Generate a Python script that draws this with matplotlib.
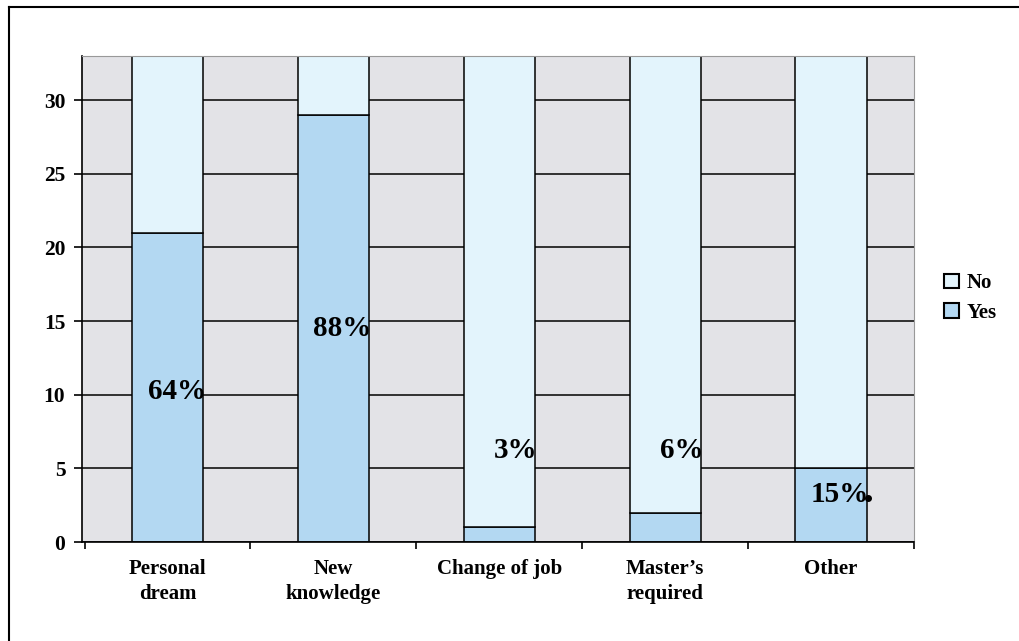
import matplotlib
matplotlib.use("Agg")
import matplotlib.pyplot as plt
from matplotlib.patches import Patch
from matplotlib.lines import Line2D
import numpy as np

# Survey: reasons for enrolling (33 respondents)
categories = ["Personal\ndream", "New\nknowledge", "Change of job", "Master\u2019s\nrequired", "Other"]
yes_counts = [21, 29, 1, 2, 5]
no_counts = [12, 4, 32, 31, 28]
pct_labels = ["64%", "88%", "3%", "6%", "15%"]
pct_label_y = [10.2, 14.5, 6.2, 6.2, 3.2]
y_ticks = [0, 5, 10, 15, 20, 25, 30]

yes_color = "#B3D8F2"
no_color = "#E3F4FC"
bg_color = "#E3E3E7"

plt.rcParams["font.family"] = ["Liberation Serif", "DejaVu Serif"]
plt.rcParams["font.weight"] = "bold"

fig = plt.figure(figsize=(10.19, 6.41), dpi=100)
fig.patch.set_facecolor("white")
ax = fig.add_axes([0.0805, 0.1544, 0.8165, 0.7582])
ax.set_facecolor(bg_color)

x = np.arange(len(categories))
width = 0.43

ax.set_axisbelow(True)
ax.yaxis.grid(True, color="black", linewidth=1.1)
ax.bar(x, yes_counts, width, color=yes_color, edgecolor="black", linewidth=1.1, label="Yes", zorder=2)
ax.bar(x, no_counts, width, bottom=yes_counts, color=no_color, edgecolor="black", linewidth=1.1, label="No", zorder=2)

for xi, txt, ty in zip(x, pct_labels, pct_label_y):
    ax.text(xi + width / 2 + 0.015, ty, txt, ha="right", va="center",
            fontsize=21, fontweight="bold", zorder=3)
# stray dot after the last label
ax.plot([x[-1] + width / 2 + 0.005], [pct_label_y[-1] - 0.2], "o", color="black", markersize=4, zorder=4)

ax.set_xlim(-0.515, len(categories) - 0.515)
ax.set_ylim(0, 33)
ax.set_yticks(y_ticks)
ax.set_yticklabels([str(v) for v in y_ticks], fontsize=15.5, fontweight="bold")
ax.tick_params(axis="y", direction="out", length=6, width=1.2, pad=6)

# category ticks sit between bars; labels centred under bars
ax.set_xticks(np.arange(len(categories) + 1) - 0.5)
ax.set_xticklabels([])
ax.tick_params(axis="x", direction="out", length=5, width=1.2)
for xi, cat in zip(x, categories):
    ax.text(xi, -1.15, cat, ha="center", va="top", fontsize=15, fontweight="bold",
            linespacing=1.35, transform=ax.transData)

for side in ["top", "right"]:
    ax.spines[side].set_color("#999999")
    ax.spines[side].set_linewidth(0.8)
for side in ["left", "bottom"]:
    ax.spines[side].set_color("black")
    ax.spines[side].set_linewidth(1.2)

handles = [Patch(facecolor=no_color, edgecolor="black", linewidth=1.5, label="No"),
           Patch(facecolor=yes_color, edgecolor="black", linewidth=1.5, label="Yes")]
fig.legend(handles=handles, loc="center left", bbox_to_anchor=(0.908, 0.535),
           frameon=False, handlelength=0.7, handleheight=0.7,
           handletextpad=0.4, labelspacing=0.45, prop={"weight": "bold", "size": 15})

# outer frame
fig.add_artist(Line2D([9 / 1019, 9 / 1019], [0, 1 - 7 / 641], transform=fig.transFigure,
                      color="black", linewidth=1.5))
fig.add_artist(Line2D([9 / 1019, 1], [1 - 7 / 641, 1 - 7 / 641], transform=fig.transFigure,
                      color="black", linewidth=1.5))

fig.savefig("out.png", dpi=100, facecolor="white")
